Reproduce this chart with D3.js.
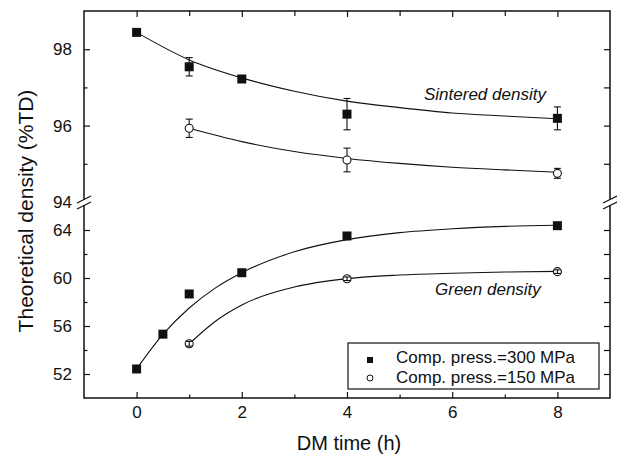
<!DOCTYPE html>
<html>
  <head>
    <meta charset="utf-8">
    <title>Theoretical density vs DM time</title>
    <style media="screen">
      body {margin:0; background:#fff}
      text {font-family: "Liberation Sans", Arial, sans-serif; fill:#111}
    </style>
  </head>
  <body>
    <script src="https://cdn.jsdelivr.net/npm/d3@7"></script>
    <script type="text/javascript">

    // sintered density, markers + error bars
    const sintX300 = [0, 1, 2, 4, 8]
    const sint300 = [98.44, 97.54, 97.22, 96.30, 96.19]
    const sint300Err = [0.04, 0.24, 0.06, 0.41, 0.30]
    const sintX150 = [1, 4, 8]
    const sint150 = [95.93, 95.10, 94.75]
    const sint150Err = [0.24, 0.31, 0.13]

    // green density
    const greenX300 = [0, 0.5, 1, 2, 4, 8]
    const green300 = [52.42, 55.32, 58.67, 60.44, 63.5, 64.36]
    const greenX150 = [1, 4, 8]
    const green150 = [54.52, 59.94, 60.53]
    const green150Err = [0.2, 0.15, 0.15]

    // fitted curves
    const fitSintX300 = [0, 1, 2, 3, 4, 5, 6, 7, 8]
    const fitSint300 = [98.44, 97.72, 97.25, 96.90, 96.64, 96.47, 96.33, 96.25, 96.18]
    const fitSintX150 = [1, 2, 3, 4, 5, 6, 7, 8]
    const fitSint150 = [95.93, 95.58, 95.32, 95.14, 95.01, 94.91, 94.84, 94.78]
    const fitGreenX300 = [0, 0.5, 1, 1.5, 2, 3, 4, 5, 6, 7, 8]
    const fitGreen300 = [52.42, 55.3, 57.5, 59.18, 60.44, 62.19, 63.2, 63.78, 64.1, 64.3, 64.4]
    const fitGreenX150 = [1, 1.5, 2, 3, 4, 5, 6, 7, 8]
    const fitGreen150 = [54.52, 56.4, 57.75, 59.25, 59.95, 60.25, 60.4, 60.5, 60.55]

    const xTicks = [0, 2, 4, 6, 8]
    const xMinor = [1, 3, 5, 7]
    const yHiTicks = [96, 98]
    const yHiMinor = [95, 97]
    const yLoTicks = [52, 56, 60, 64]
    const yLoMinor = [54, 58, 62]
    const legendLabels = ['Comp. press.=300 MPa', 'Comp. press.=150 MPa']

    const W = 617, H = 456
    const L = 84, R = 610, T = 11, B = 398
    const breakY = 202.5

    const svg = d3.select('body').append('svg')
      .attr('width', W)
      .attr('height', H)

    const x = d3.scaleLinear().domain([-1, 9]).range([L, R])
    const yHi = d3.scaleLinear().domain([94, 99]).range([202, T])
    const yLo = d3.scaleLinear().domain([50, 64]).range([B, 230])
    const y = v => v >= 90 ? yHi(v) : yLo(v)
    const fmt = d3.format('d')

    const ink = '#111'

    // frame with gaps for the axis break
    const frame = svg.append('g').attr('stroke', ink).attr('stroke-width', 1.5).attr('fill', 'none')
    frame.append('path').attr('d', `M${L},${breakY - 3}V${T}H${R}V${breakY - 3}`)
    frame.append('path').attr('d', `M${L},${breakY + 3}V${B}H${R}V${breakY + 3}`)

    // break marks
    ;[L, R].forEach(cx => {
      [-3, 3].forEach(off => {
        frame.append('line')
          .attr('x1', cx - 7).attr('y1', breakY + off + 3.5)
          .attr('x2', cx + 7).attr('y2', breakY + off - 3.5)
          .attr('stroke-width', 1.2)
      })
    })

    function styleAxis (g) {
      g.select('.domain').remove()
      g.selectAll('line').attr('stroke', ink).attr('stroke-width', 1.2)
      g.selectAll('text').attr('font-size', 17).attr('fill', ink)
        .attr('font-family', '"Liberation Sans", Arial, sans-serif')
    }

    // left axis
    svg.append('g').attr('transform', `translate(${L},0)`)
      .call(d3.axisLeft(yHi).tickValues(yHiTicks).tickFormat(fmt).tickSize(-6).tickPadding(12)).call(styleAxis)
    svg.append('g').attr('transform', `translate(${L},0)`)
      .call(d3.axisLeft(yHi).tickValues(yHiMinor).tickSize(-3.5).tickFormat('')).call(styleAxis)
    svg.append('g').attr('transform', `translate(${L},0)`)
      .call(d3.axisLeft(yHi).tickValues([94]).tickFormat(fmt).tickSize(0).tickPadding(12)).call(styleAxis)
    svg.append('g').attr('transform', `translate(${L},0)`)
      .call(d3.axisLeft(yLo).tickValues(yLoTicks).tickFormat(fmt).tickSize(-6).tickPadding(12)).call(styleAxis)
    svg.append('g').attr('transform', `translate(${L},0)`)
      .call(d3.axisLeft(yLo).tickValues(yLoMinor).tickSize(-3.5).tickFormat('')).call(styleAxis)

    // right axis
    svg.append('g').attr('transform', `translate(${R},0)`)
      .call(d3.axisRight(yHi).tickValues(yHiTicks.concat(yHiMinor)).tickSize(-6).tickFormat('')).call(styleAxis)
    svg.append('g').attr('transform', `translate(${R},0)`)
      .call(d3.axisRight(yLo).tickValues(yLoTicks.concat(yLoMinor)).tickSize(-6).tickFormat('')).call(styleAxis)

    // bottom + top axes
    svg.append('g').attr('transform', `translate(0,${B})`)
      .call(d3.axisBottom(x).tickValues(xTicks).tickFormat(fmt).tickSize(-6).tickPadding(8)).call(styleAxis)
    svg.append('g').attr('transform', `translate(0,${B})`)
      .call(d3.axisBottom(x).tickValues(xMinor).tickSize(-3.5).tickFormat('')).call(styleAxis)
    svg.append('g').attr('transform', `translate(0,${T})`)
      .call(d3.axisTop(x).tickValues(xTicks).tickSize(-6).tickFormat('')).call(styleAxis)
    svg.append('g').attr('transform', `translate(0,${T})`)
      .call(d3.axisTop(x).tickValues(xMinor).tickSize(-5).tickFormat('')).call(styleAxis)

    // axis titles
    svg.append('text')
      .attr('x', 349).attr('y', 450)
      .attr('text-anchor', 'middle')
      .attr('font-size', 20)
      .text('DM time (h)')

    svg.append('text')
      .attr('transform', 'translate(33,211) rotate(-90)')
      .attr('text-anchor', 'middle')
      .attr('font-size', 21)
      .text('Theoretical density (%TD)')

    // fitted curves
    const line = d3.line()
      .x(d => x(d[0]))
      .y(d => y(d[1]))
      .curve(d3.curveMonotoneX)

    const curves = [
      [fitSintX300, fitSint300],
      [fitSintX150, fitSint150],
      [fitGreenX300, fitGreen300],
      [fitGreenX150, fitGreen150]
    ]
    svg.append('g').selectAll('path')
      .data(curves)
      .join('path')
      .attr('d', c => line(d3.zip(c[0], c[1])))
      .attr('fill', 'none')
      .attr('stroke', ink)
      .attr('stroke-width', 1.1)

    // error bars
    function errBars (xs, vs, es) {
      const g = svg.append('g').attr('stroke', ink).attr('stroke-width', 1.1)
      xs.forEach((xv, i) => {
        const cx = x(xv), y0 = y(vs[i] - es[i]), y1 = y(vs[i] + es[i])
        g.append('line').attr('x1', cx).attr('x2', cx).attr('y1', y0).attr('y2', y1)
        g.append('line').attr('x1', cx - 3.5).attr('x2', cx + 3.5).attr('y1', y0).attr('y2', y0)
        g.append('line').attr('x1', cx - 3.5).attr('x2', cx + 3.5).attr('y1', y1).attr('y2', y1)
      })
    }
    errBars(sintX300, sint300, sint300Err)
    errBars(sintX150, sint150, sint150Err)

    function squares (xs, vs) {
      svg.append('g').selectAll('rect')
        .data(d3.zip(xs, vs))
        .join('rect')
        .attr('x', d => x(d[0]) - 4.5)
        .attr('y', d => y(d[1]) - 4.5)
        .attr('width', 9).attr('height', 9)
        .attr('fill', ink)
    }
    function circles (xs, vs) {
      svg.append('g').selectAll('circle')
        .data(d3.zip(xs, vs))
        .join('circle')
        .attr('cx', d => x(d[0]))
        .attr('cy', d => y(d[1]))
        .attr('r', 4)
        .attr('fill', '#fff')
        .attr('stroke', ink)
        .attr('stroke-width', 1.1)
    }
    squares(sintX300, sint300)
    circles(sintX150, sint150)
    squares(greenX300, green300)
    circles(greenX150, green150)
    errBars(greenX150, green150, green150Err)

    // curve labels
    svg.append('text')
      .attr('x', 424).attr('y', 100)
      .attr('font-size', 17).attr('font-style', 'italic')
      .text('Sintered density')
    svg.append('text')
      .attr('x', 435).attr('y', 295)
      .attr('font-size', 17).attr('font-style', 'italic')
      .text('Green density')

    // legend
    const lg = svg.append('g').attr('transform', 'translate(348,343)')
    lg.append('rect')
      .attr('width', 251).attr('height', 46)
      .attr('fill', '#fff').attr('stroke', ink).attr('stroke-width', 1.2)
    lg.append('rect').attr('x', 19).attr('y', 14).attr('width', 6).attr('height', 6).attr('fill', ink)
    lg.append('circle').attr('cx', 22).attr('cy', 35).attr('r', 3)
      .attr('fill', '#fff').attr('stroke', ink).attr('stroke-width', 1)
    lg.selectAll('text.lab')
      .data(legendLabels)
      .join('text')
      .attr('class', 'lab')
      .attr('x', 48)
      .attr('y', (d, i) => 20 + i * 19.5)
      .attr('font-size', 17)
      .text(d => d)

    </script>
  </body>
</html>
